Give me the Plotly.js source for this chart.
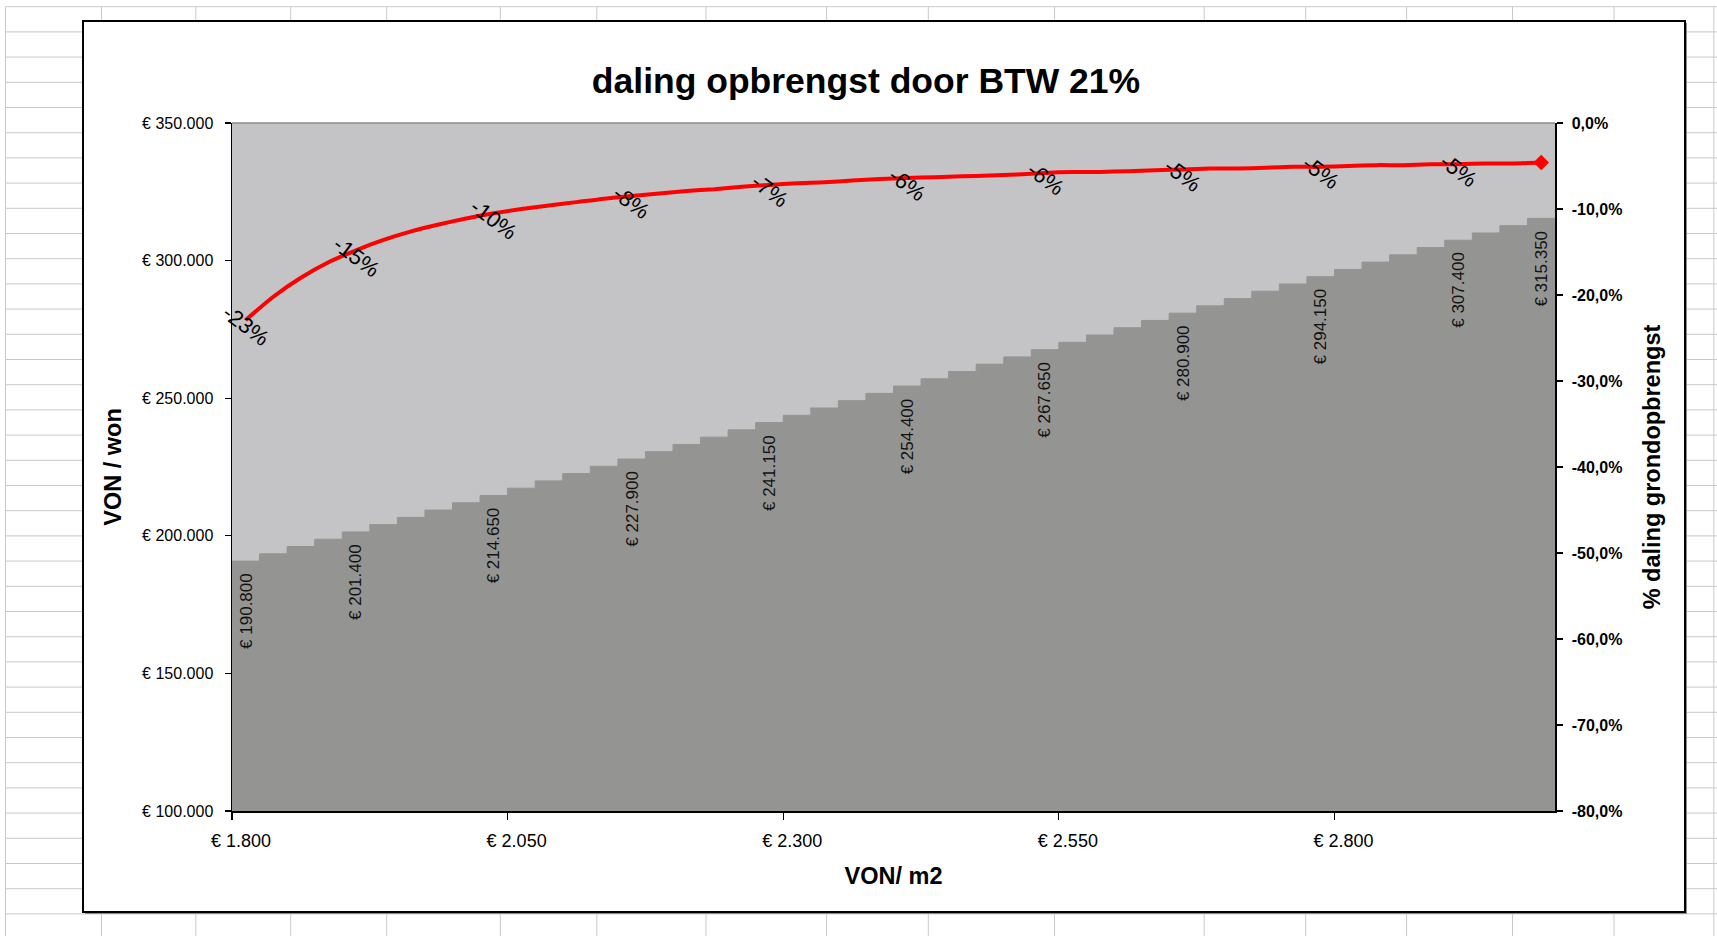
<!DOCTYPE html>
<html>
<head>
<meta charset="utf-8">
<script src="https://cdn.plot.ly/plotly-3.0.1.min.js"></script>
<style>
  html, body { margin: 0; padding: 0; background: #ffffff; }
  #chart { width: 1717px; height: 936px; }
</style>
</head>
<body>
<div id="chart"></div>
<script>
// ---------- data ----------
const prijsPerM2 = [1800, 1825, 1850, 1875, 1900, 1925, 1950, 1975, 2000, 2025,
                    2050, 2075, 2100, 2125, 2150, 2175, 2200, 2225, 2250, 2275,
                    2300, 2325, 2350, 2375, 2400, 2425, 2450, 2475, 2500, 2525,
                    2550, 2575, 2600, 2625, 2650, 2675, 2700, 2725, 2750, 2775,
                    2800, 2825, 2850, 2875, 2900, 2925, 2950, 2975];

const vonPerWoning = [190800, 193450, 196100, 198750, 201400, 204050, 206700, 209350, 212000, 214650,
                      217300, 219950, 222600, 225250, 227900, 230550, 233200, 235850, 238500, 241150,
                      243800, 246450, 249100, 251750, 254400, 257050, 259700, 262350, 265000, 267650,
                      270300, 272950, 275600, 278250, 280900, 283550, 286200, 288850, 291500, 294150,
                      296800, 299450, 302100, 304750, 307400, 310050, 312700, 315350];

const dalingGrond = [-0.229, -0.202, -0.180, -0.162, -0.148, -0.136, -0.126, -0.118, -0.111, -0.105,
                     -0.100, -0.096, -0.092, -0.088, -0.085, -0.082, -0.079, -0.077, -0.074, -0.072,
                     -0.070, -0.069, -0.067, -0.065, -0.064, -0.063, -0.062, -0.061, -0.060, -0.058,
                     -0.057, -0.057, -0.056, -0.055, -0.054, -0.053, -0.053, -0.052, -0.051, -0.051,
                     -0.050, -0.049, -0.049, -0.048, -0.048, -0.047, -0.047, -0.046];

const barLabelIdx = [0, 4, 9, 14, 19, 24, 29, 34, 39, 44, 47];
const pctLabelIdx = [0, 4, 9, 14, 19, 24, 29, 34, 39, 44];
const pctLabels = ['-23%', '-15%', '-10%', '-8%', '-7%', '-6%', '-6%', '-5%', '-5%', '-5%'];

const xTickVals = [1800, 2050, 2300, 2550, 2800];
const xTickText = ['€ 1.800', '€ 2.050', '€ 2.300', '€ 2.550', '€ 2.800'];
const yTickVals = [100000, 150000, 200000, 250000, 300000, 350000];
const yTickText = ['€ 100.000', '€ 150.000', '€ 200.000', '€ 250.000', '€ 300.000', '€ 350.000'];
const y2TickVals = [-0.8, -0.7, -0.6, -0.5, -0.4, -0.3, -0.2, -0.1, 0];
const y2TickText = ['-80,0%', '-70,0%', '-60,0%', '-50,0%', '-40,0%', '-30,0%', '-20,0%', '-10,0%', '0,0%'];

// ---------- helpers ----------
const STEP = 25;
const centers = prijsPerM2.map(p => p + STEP / 2);
const fmtEuro = v => '€ ' + String(v).replace(/\B(?=(\d{3})+(?!\d))/g, '.');

const W = 1717, H = 936, L = 232, R = 1555, T = 123, B = 811;
const px = x => (x - L) / (R - L);
const py = y => (B - y) / (B - T);
const FONT = 'Liberation Sans, Arial, sans-serif';

// spreadsheet grid behind the chart
const colLines = [5.5, 101.5, 195.8, 290.7, 386.7, 500.3, 596.8, 706, 826.6, 928.3,
                  1054.5, 1204.2, 1305.7, 1406.6, 1512.5, 1614, 1713.8];
const shapes = [];
const gridColor = '#c9c9c9';
colLines.forEach(c => shapes.push({type: 'line', xref: 'paper', yref: 'paper', layer: 'below',
  x0: px(c), x1: px(c), y0: py(6.7), y1: py(H + 5), line: {color: gridColor, width: 1}}));
for (let y = 6.7; y < H; y += 25.2) {
  shapes.push({type: 'line', xref: 'paper', yref: 'paper', layer: 'below',
    x0: px(5.5), x1: px(W + 5), y0: py(y), y1: py(y), line: {color: gridColor, width: 1}});
}
// chart area (white box with black border and slight shadow)
shapes.push({type: 'rect', xref: 'paper', yref: 'paper', layer: 'below',
  x0: px(85), x1: px(1687), y0: py(914), y1: py(23), fillcolor: '#8a8a8a', line: {width: 0}});
shapes.push({type: 'rect', xref: 'paper', yref: 'paper', layer: 'below',
  x0: px(83), x1: px(1685), y0: py(912), y1: py(21), fillcolor: '#ffffff', line: {color: '#000000', width: 2}});
// plot area
shapes.push({type: 'rect', xref: 'paper', yref: 'paper', layer: 'below',
  x0: 0, x1: 1, y0: 0, y1: 1, fillcolor: '#c4c3c6', line: {width: 0}});
shapes.push({type: 'line', xref: 'paper', yref: 'paper', layer: 'below',
  x0: 0, x1: 1, y0: 1, y1: 1, line: {color: '#8c8c8c', width: 1.5}});

// annotations
const annotations = [];
barLabelIdx.forEach(i => annotations.push({
  x: centers[i], y: vonPerWoning[i], xref: 'x', yref: 'y',
  text: fmtEuro(vonPerWoning[i]), textangle: -90, showarrow: false,
  xanchor: 'center', yanchor: 'top', yshift: -10,
  font: {family: FONT, size: 17, color: '#111111'}
}));
pctLabelIdx.forEach((i, k) => annotations.push({
  x: centers[i], y: dalingGrond[i], xref: 'x', yref: 'y2',
  text: pctLabels[k], textangle: 37, showarrow: false,
  xanchor: 'center', yanchor: 'middle', yshift: -6,
  font: {family: FONT, size: 22, color: '#000000'}
}));

const traces = [
  {type: 'bar', x: prijsPerM2, y: vonPerWoning, width: STEP, offset: 0,
   marker: {color: '#949592', line: {width: 1, color: '#949592'}},
   hoverinfo: 'x+y', name: 'VON / won'},
  {type: 'scatter', mode: 'lines', x: centers, y: dalingGrond, yaxis: 'y2',
   line: {color: '#ff0000', width: 4, shape: 'spline', smoothing: 0.6}, name: '% daling grondopbrengst'},
  {type: 'scatter', mode: 'markers', x: [centers[centers.length - 1]], y: [dalingGrond[dalingGrond.length - 1]],
   yaxis: 'y2', marker: {symbol: 'diamond', size: 12, color: '#ff0000'}, hoverinfo: 'skip', showlegend: false}
];

const layout = {
  width: W, height: H,
  margin: {l: L, r: W - R, t: T, b: H - B, pad: 0},
  paper_bgcolor: '#ffffff',
  plot_bgcolor: 'rgba(0,0,0,0)',
  showlegend: false,
  font: {family: FONT, color: '#000000'},
  title: {text: 'daling opbrengst door BTW 21%', font: {family: FONT, size: 35.5, weight: 'bold', color: '#000'},
          x: 866 / W, xanchor: 'center', y: 1 - 81 / H, yanchor: 'middle'},
  xaxis: {range: [1800, 3000], tickvals: xTickVals, ticktext: xTickText,
          showgrid: false, zeroline: false, showline: true, linecolor: '#000', linewidth: 1.5,
          ticks: 'outside', ticklen: 7, tickcolor: '#000', tickwidth: 1.2,
          tickfont: {family: FONT, size: 18, color: '#000'}, ticklabelstandoff: 6, ticklabelshift: 9,
          title: {text: 'VON/ m2', font: {family: FONT, size: 23.5, weight: 'bold', color: '#000'}, standoff: 17}},
  yaxis: {range: [100000, 350000], tickvals: yTickVals, ticktext: yTickText,
          showgrid: false, zeroline: false, showline: true, linecolor: '#000', linewidth: 1.5,
          ticks: 'outside', ticklen: 6, tickcolor: '#000', tickwidth: 1.2,
          tickfont: {family: FONT, size: 16, color: '#000'}, ticklabelstandoff: 8,
          title: {text: 'VON / won', font: {family: FONT, size: 23.5, weight: 'bold', color: '#000'}, standoff: 14}},
  yaxis2: {range: [-0.8, 0], tickvals: y2TickVals, ticktext: y2TickText,
           overlaying: 'y', side: 'right',
           showgrid: false, zeroline: false, showline: true, linecolor: '#000', linewidth: 1.5,
           ticks: 'outside', ticklen: 6, tickcolor: '#000', tickwidth: 1.2,
           tickfont: {family: FONT, size: 16, weight: 'bold', color: '#000'}, ticklabelstandoff: 6,
           title: {text: '% daling grondopbrengst', font: {family: FONT, size: 23.5, weight: 'bold', color: '#000'}, standoff: 22}},
  shapes: shapes,
  annotations: annotations,
  bargap: 0
};

Plotly.newPlot('chart', traces, layout, {displayModeBar: false, staticPlot: true});
</script>
</body>
</html>
